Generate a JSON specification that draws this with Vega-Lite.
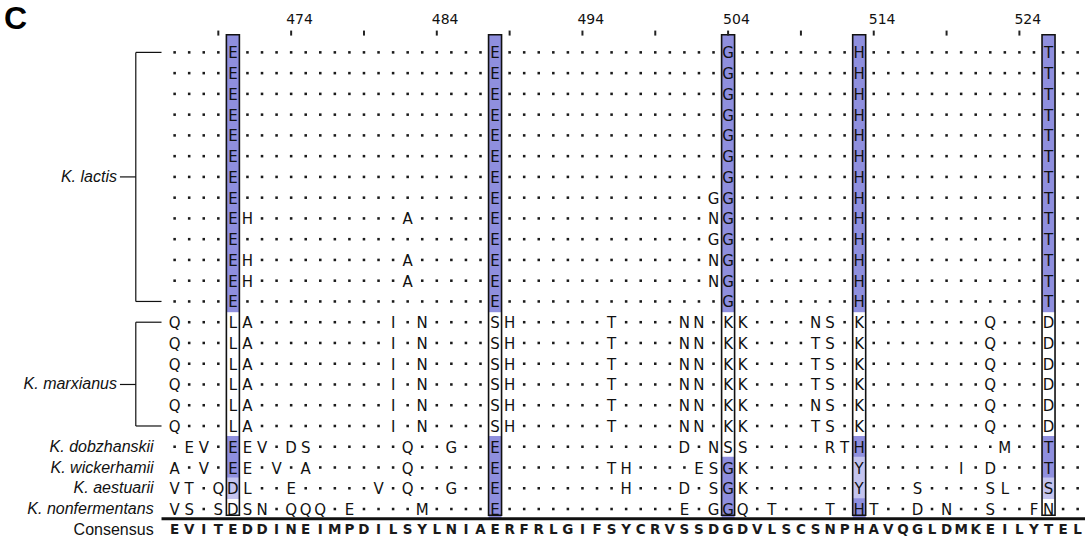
{
"$schema": "https://vega.github.io/schema/vega-lite/v6.json",
"width": 1090,
"height": 494,
"autosize": {"type": "none"},
"padding": {"left": 0, "top": 42, "right": 0, "bottom": 14},
"background": "white",
"config": {"view": {"stroke": null}},
"title": {"text": "C", "anchor": "start", "frame": "group", "fontSize": 32, "font": "Liberation Sans", "fontWeight": "bold", "color": "#000", "offset": -23, "dx": 4},
"datasets": {
"boxes": [{"p":470},{"p":488},{"p":504},{"p":513},{"p":526}],
"ruler": [{"p":469},{"p":474,"l":"474"},{"p":479},{"p":484,"l":"484"},{"p":489},{"p":494,"l":"494"},{"p":499},{"p":504,"l":"504"},{"p":509},{"p":514,"l":"514"},{"p":519},{"p":524,"l":"524"}],
"groups": [{"n":"K. lactis","t":0,"b":12,"m":6},{"n":"K. marxianus","t":13,"b":18,"m":16}],
"labels": [{"i":19,"n":"K. dobzhanskii"},{"i":20,"n":"K. wickerhamii"},{"i":21,"n":"K. aestuarii"},{"i":22,"n":"K. nonfermentans"},{"i":23,"n":"Consensus"}],
"sep": [{"i":22.47}],
"cells": [
{"i":0,"p":466},{"i":0,"p":467},{"i":0,"p":468},{"i":0,"p":469},{"i":0,"p":470,"a":"E","s":"i"},{"i":0,"p":471},{"i":0,"p":472},{"i":0,"p":473},{"i":0,"p":474},{"i":0,"p":475},{"i":0,"p":476},{"i":0,"p":477},{"i":0,"p":478},{"i":0,"p":479},{"i":0,"p":480},{"i":0,"p":481},{"i":0,"p":482},{"i":0,"p":483},{"i":0,"p":484},{"i":0,"p":485},{"i":0,"p":486},{"i":0,"p":487},{"i":0,"p":488,"a":"E","s":"i"},{"i":0,"p":489},{"i":0,"p":490},{"i":0,"p":491},{"i":0,"p":492},{"i":0,"p":493},{"i":0,"p":494},{"i":0,"p":495},{"i":0,"p":496},{"i":0,"p":497},{"i":0,"p":498},{"i":0,"p":499},{"i":0,"p":500},{"i":0,"p":501},{"i":0,"p":502},{"i":0,"p":503},{"i":0,"p":504,"a":"G","s":"i"},{"i":0,"p":505},{"i":0,"p":506},{"i":0,"p":507},{"i":0,"p":508},{"i":0,"p":509},{"i":0,"p":510},{"i":0,"p":511},{"i":0,"p":512},{"i":0,"p":513,"a":"H","s":"i"},{"i":0,"p":514},{"i":0,"p":515},{"i":0,"p":516},{"i":0,"p":517},{"i":0,"p":518},{"i":0,"p":519},{"i":0,"p":520},{"i":0,"p":521},{"i":0,"p":522},{"i":0,"p":523},{"i":0,"p":524},{"i":0,"p":525},{"i":0,"p":526,"a":"T","s":"i"},{"i":0,"p":527},{"i":0,"p":528},
{"i":1,"p":466},{"i":1,"p":467},{"i":1,"p":468},{"i":1,"p":469},{"i":1,"p":470,"a":"E","s":"i"},{"i":1,"p":471},{"i":1,"p":472},{"i":1,"p":473},{"i":1,"p":474},{"i":1,"p":475},{"i":1,"p":476},{"i":1,"p":477},{"i":1,"p":478},{"i":1,"p":479},{"i":1,"p":480},{"i":1,"p":481},{"i":1,"p":482},{"i":1,"p":483},{"i":1,"p":484},{"i":1,"p":485},{"i":1,"p":486},{"i":1,"p":487},{"i":1,"p":488,"a":"E","s":"i"},{"i":1,"p":489},{"i":1,"p":490},{"i":1,"p":491},{"i":1,"p":492},{"i":1,"p":493},{"i":1,"p":494},{"i":1,"p":495},{"i":1,"p":496},{"i":1,"p":497},{"i":1,"p":498},{"i":1,"p":499},{"i":1,"p":500},{"i":1,"p":501},{"i":1,"p":502},{"i":1,"p":503},{"i":1,"p":504,"a":"G","s":"i"},{"i":1,"p":505},{"i":1,"p":506},{"i":1,"p":507},{"i":1,"p":508},{"i":1,"p":509},{"i":1,"p":510},{"i":1,"p":511},{"i":1,"p":512},{"i":1,"p":513,"a":"H","s":"i"},{"i":1,"p":514},{"i":1,"p":515},{"i":1,"p":516},{"i":1,"p":517},{"i":1,"p":518},{"i":1,"p":519},{"i":1,"p":520},{"i":1,"p":521},{"i":1,"p":522},{"i":1,"p":523},{"i":1,"p":524},{"i":1,"p":525},{"i":1,"p":526,"a":"T","s":"i"},{"i":1,"p":527},{"i":1,"p":528},
{"i":2,"p":466},{"i":2,"p":467},{"i":2,"p":468},{"i":2,"p":469},{"i":2,"p":470,"a":"E","s":"i"},{"i":2,"p":471},{"i":2,"p":472},{"i":2,"p":473},{"i":2,"p":474},{"i":2,"p":475},{"i":2,"p":476},{"i":2,"p":477},{"i":2,"p":478},{"i":2,"p":479},{"i":2,"p":480},{"i":2,"p":481},{"i":2,"p":482},{"i":2,"p":483},{"i":2,"p":484},{"i":2,"p":485},{"i":2,"p":486},{"i":2,"p":487},{"i":2,"p":488,"a":"E","s":"i"},{"i":2,"p":489},{"i":2,"p":490},{"i":2,"p":491},{"i":2,"p":492},{"i":2,"p":493},{"i":2,"p":494},{"i":2,"p":495},{"i":2,"p":496},{"i":2,"p":497},{"i":2,"p":498},{"i":2,"p":499},{"i":2,"p":500},{"i":2,"p":501},{"i":2,"p":502},{"i":2,"p":503},{"i":2,"p":504,"a":"G","s":"i"},{"i":2,"p":505},{"i":2,"p":506},{"i":2,"p":507},{"i":2,"p":508},{"i":2,"p":509},{"i":2,"p":510},{"i":2,"p":511},{"i":2,"p":512},{"i":2,"p":513,"a":"H","s":"i"},{"i":2,"p":514},{"i":2,"p":515},{"i":2,"p":516},{"i":2,"p":517},{"i":2,"p":518},{"i":2,"p":519},{"i":2,"p":520},{"i":2,"p":521},{"i":2,"p":522},{"i":2,"p":523},{"i":2,"p":524},{"i":2,"p":525},{"i":2,"p":526,"a":"T","s":"i"},{"i":2,"p":527},{"i":2,"p":528},
{"i":3,"p":466},{"i":3,"p":467},{"i":3,"p":468},{"i":3,"p":469},{"i":3,"p":470,"a":"E","s":"i"},{"i":3,"p":471},{"i":3,"p":472},{"i":3,"p":473},{"i":3,"p":474},{"i":3,"p":475},{"i":3,"p":476},{"i":3,"p":477},{"i":3,"p":478},{"i":3,"p":479},{"i":3,"p":480},{"i":3,"p":481},{"i":3,"p":482},{"i":3,"p":483},{"i":3,"p":484},{"i":3,"p":485},{"i":3,"p":486},{"i":3,"p":487},{"i":3,"p":488,"a":"E","s":"i"},{"i":3,"p":489},{"i":3,"p":490},{"i":3,"p":491},{"i":3,"p":492},{"i":3,"p":493},{"i":3,"p":494},{"i":3,"p":495},{"i":3,"p":496},{"i":3,"p":497},{"i":3,"p":498},{"i":3,"p":499},{"i":3,"p":500},{"i":3,"p":501},{"i":3,"p":502},{"i":3,"p":503},{"i":3,"p":504,"a":"G","s":"i"},{"i":3,"p":505},{"i":3,"p":506},{"i":3,"p":507},{"i":3,"p":508},{"i":3,"p":509},{"i":3,"p":510},{"i":3,"p":511},{"i":3,"p":512},{"i":3,"p":513,"a":"H","s":"i"},{"i":3,"p":514},{"i":3,"p":515},{"i":3,"p":516},{"i":3,"p":517},{"i":3,"p":518},{"i":3,"p":519},{"i":3,"p":520},{"i":3,"p":521},{"i":3,"p":522},{"i":3,"p":523},{"i":3,"p":524},{"i":3,"p":525},{"i":3,"p":526,"a":"T","s":"i"},{"i":3,"p":527},{"i":3,"p":528},
{"i":4,"p":466},{"i":4,"p":467},{"i":4,"p":468},{"i":4,"p":469},{"i":4,"p":470,"a":"E","s":"i"},{"i":4,"p":471},{"i":4,"p":472},{"i":4,"p":473},{"i":4,"p":474},{"i":4,"p":475},{"i":4,"p":476},{"i":4,"p":477},{"i":4,"p":478},{"i":4,"p":479},{"i":4,"p":480},{"i":4,"p":481},{"i":4,"p":482},{"i":4,"p":483},{"i":4,"p":484},{"i":4,"p":485},{"i":4,"p":486},{"i":4,"p":487},{"i":4,"p":488,"a":"E","s":"i"},{"i":4,"p":489},{"i":4,"p":490},{"i":4,"p":491},{"i":4,"p":492},{"i":4,"p":493},{"i":4,"p":494},{"i":4,"p":495},{"i":4,"p":496},{"i":4,"p":497},{"i":4,"p":498},{"i":4,"p":499},{"i":4,"p":500},{"i":4,"p":501},{"i":4,"p":502},{"i":4,"p":503},{"i":4,"p":504,"a":"G","s":"i"},{"i":4,"p":505},{"i":4,"p":506},{"i":4,"p":507},{"i":4,"p":508},{"i":4,"p":509},{"i":4,"p":510},{"i":4,"p":511},{"i":4,"p":512},{"i":4,"p":513,"a":"H","s":"i"},{"i":4,"p":514},{"i":4,"p":515},{"i":4,"p":516},{"i":4,"p":517},{"i":4,"p":518},{"i":4,"p":519},{"i":4,"p":520},{"i":4,"p":521},{"i":4,"p":522},{"i":4,"p":523},{"i":4,"p":524},{"i":4,"p":525},{"i":4,"p":526,"a":"T","s":"i"},{"i":4,"p":527},{"i":4,"p":528},
{"i":5,"p":466},{"i":5,"p":467},{"i":5,"p":468},{"i":5,"p":469},{"i":5,"p":470,"a":"E","s":"i"},{"i":5,"p":471},{"i":5,"p":472},{"i":5,"p":473},{"i":5,"p":474},{"i":5,"p":475},{"i":5,"p":476},{"i":5,"p":477},{"i":5,"p":478},{"i":5,"p":479},{"i":5,"p":480},{"i":5,"p":481},{"i":5,"p":482},{"i":5,"p":483},{"i":5,"p":484},{"i":5,"p":485},{"i":5,"p":486},{"i":5,"p":487},{"i":5,"p":488,"a":"E","s":"i"},{"i":5,"p":489},{"i":5,"p":490},{"i":5,"p":491},{"i":5,"p":492},{"i":5,"p":493},{"i":5,"p":494},{"i":5,"p":495},{"i":5,"p":496},{"i":5,"p":497},{"i":5,"p":498},{"i":5,"p":499},{"i":5,"p":500},{"i":5,"p":501},{"i":5,"p":502},{"i":5,"p":503},{"i":5,"p":504,"a":"G","s":"i"},{"i":5,"p":505},{"i":5,"p":506},{"i":5,"p":507},{"i":5,"p":508},{"i":5,"p":509},{"i":5,"p":510},{"i":5,"p":511},{"i":5,"p":512},{"i":5,"p":513,"a":"H","s":"i"},{"i":5,"p":514},{"i":5,"p":515},{"i":5,"p":516},{"i":5,"p":517},{"i":5,"p":518},{"i":5,"p":519},{"i":5,"p":520},{"i":5,"p":521},{"i":5,"p":522},{"i":5,"p":523},{"i":5,"p":524},{"i":5,"p":525},{"i":5,"p":526,"a":"T","s":"i"},{"i":5,"p":527},{"i":5,"p":528},
{"i":6,"p":466},{"i":6,"p":467},{"i":6,"p":468},{"i":6,"p":469},{"i":6,"p":470,"a":"E","s":"i"},{"i":6,"p":471},{"i":6,"p":472},{"i":6,"p":473},{"i":6,"p":474},{"i":6,"p":475},{"i":6,"p":476},{"i":6,"p":477},{"i":6,"p":478},{"i":6,"p":479},{"i":6,"p":480},{"i":6,"p":481},{"i":6,"p":482},{"i":6,"p":483},{"i":6,"p":484},{"i":6,"p":485},{"i":6,"p":486},{"i":6,"p":487},{"i":6,"p":488,"a":"E","s":"i"},{"i":6,"p":489},{"i":6,"p":490},{"i":6,"p":491},{"i":6,"p":492},{"i":6,"p":493},{"i":6,"p":494},{"i":6,"p":495},{"i":6,"p":496},{"i":6,"p":497},{"i":6,"p":498},{"i":6,"p":499},{"i":6,"p":500},{"i":6,"p":501},{"i":6,"p":502},{"i":6,"p":503},{"i":6,"p":504,"a":"G","s":"i"},{"i":6,"p":505},{"i":6,"p":506},{"i":6,"p":507},{"i":6,"p":508},{"i":6,"p":509},{"i":6,"p":510},{"i":6,"p":511},{"i":6,"p":512},{"i":6,"p":513,"a":"H","s":"i"},{"i":6,"p":514},{"i":6,"p":515},{"i":6,"p":516},{"i":6,"p":517},{"i":6,"p":518},{"i":6,"p":519},{"i":6,"p":520},{"i":6,"p":521},{"i":6,"p":522},{"i":6,"p":523},{"i":6,"p":524},{"i":6,"p":525},{"i":6,"p":526,"a":"T","s":"i"},{"i":6,"p":527},{"i":6,"p":528},
{"i":7,"p":466},{"i":7,"p":467},{"i":7,"p":468},{"i":7,"p":469},{"i":7,"p":470,"a":"E","s":"i"},{"i":7,"p":471},{"i":7,"p":472},{"i":7,"p":473},{"i":7,"p":474},{"i":7,"p":475},{"i":7,"p":476},{"i":7,"p":477},{"i":7,"p":478},{"i":7,"p":479},{"i":7,"p":480},{"i":7,"p":481},{"i":7,"p":482},{"i":7,"p":483},{"i":7,"p":484},{"i":7,"p":485},{"i":7,"p":486},{"i":7,"p":487},{"i":7,"p":488,"a":"E","s":"i"},{"i":7,"p":489},{"i":7,"p":490},{"i":7,"p":491},{"i":7,"p":492},{"i":7,"p":493},{"i":7,"p":494},{"i":7,"p":495},{"i":7,"p":496},{"i":7,"p":497},{"i":7,"p":498},{"i":7,"p":499},{"i":7,"p":500},{"i":7,"p":501},{"i":7,"p":502},{"i":7,"p":503,"a":"G"},{"i":7,"p":504,"a":"G","s":"i"},{"i":7,"p":505},{"i":7,"p":506},{"i":7,"p":507},{"i":7,"p":508},{"i":7,"p":509},{"i":7,"p":510},{"i":7,"p":511},{"i":7,"p":512},{"i":7,"p":513,"a":"H","s":"i"},{"i":7,"p":514},{"i":7,"p":515},{"i":7,"p":516},{"i":7,"p":517},{"i":7,"p":518},{"i":7,"p":519},{"i":7,"p":520},{"i":7,"p":521},{"i":7,"p":522},{"i":7,"p":523},{"i":7,"p":524},{"i":7,"p":525},{"i":7,"p":526,"a":"T","s":"i"},{"i":7,"p":527},{"i":7,"p":528},
{"i":8,"p":466},{"i":8,"p":467},{"i":8,"p":468},{"i":8,"p":469},{"i":8,"p":470,"a":"E","s":"i"},{"i":8,"p":471,"a":"H"},{"i":8,"p":472},{"i":8,"p":473},{"i":8,"p":474},{"i":8,"p":475},{"i":8,"p":476},{"i":8,"p":477},{"i":8,"p":478},{"i":8,"p":479},{"i":8,"p":480},{"i":8,"p":481},{"i":8,"p":482,"a":"A"},{"i":8,"p":483},{"i":8,"p":484},{"i":8,"p":485},{"i":8,"p":486},{"i":8,"p":487},{"i":8,"p":488,"a":"E","s":"i"},{"i":8,"p":489},{"i":8,"p":490},{"i":8,"p":491},{"i":8,"p":492},{"i":8,"p":493},{"i":8,"p":494},{"i":8,"p":495},{"i":8,"p":496},{"i":8,"p":497},{"i":8,"p":498},{"i":8,"p":499},{"i":8,"p":500},{"i":8,"p":501},{"i":8,"p":502},{"i":8,"p":503,"a":"N"},{"i":8,"p":504,"a":"G","s":"i"},{"i":8,"p":505},{"i":8,"p":506},{"i":8,"p":507},{"i":8,"p":508},{"i":8,"p":509},{"i":8,"p":510},{"i":8,"p":511},{"i":8,"p":512},{"i":8,"p":513,"a":"H","s":"i"},{"i":8,"p":514},{"i":8,"p":515},{"i":8,"p":516},{"i":8,"p":517},{"i":8,"p":518},{"i":8,"p":519},{"i":8,"p":520},{"i":8,"p":521},{"i":8,"p":522},{"i":8,"p":523},{"i":8,"p":524},{"i":8,"p":525},{"i":8,"p":526,"a":"T","s":"i"},{"i":8,"p":527},{"i":8,"p":528},
{"i":9,"p":466},{"i":9,"p":467},{"i":9,"p":468},{"i":9,"p":469},{"i":9,"p":470,"a":"E","s":"i"},{"i":9,"p":471},{"i":9,"p":472},{"i":9,"p":473},{"i":9,"p":474},{"i":9,"p":475},{"i":9,"p":476},{"i":9,"p":477},{"i":9,"p":478},{"i":9,"p":479},{"i":9,"p":480},{"i":9,"p":481},{"i":9,"p":482},{"i":9,"p":483},{"i":9,"p":484},{"i":9,"p":485},{"i":9,"p":486},{"i":9,"p":487},{"i":9,"p":488,"a":"E","s":"i"},{"i":9,"p":489},{"i":9,"p":490},{"i":9,"p":491},{"i":9,"p":492},{"i":9,"p":493},{"i":9,"p":494},{"i":9,"p":495},{"i":9,"p":496},{"i":9,"p":497},{"i":9,"p":498},{"i":9,"p":499},{"i":9,"p":500},{"i":9,"p":501},{"i":9,"p":502},{"i":9,"p":503,"a":"G"},{"i":9,"p":504,"a":"G","s":"i"},{"i":9,"p":505},{"i":9,"p":506},{"i":9,"p":507},{"i":9,"p":508},{"i":9,"p":509},{"i":9,"p":510},{"i":9,"p":511},{"i":9,"p":512},{"i":9,"p":513,"a":"H","s":"i"},{"i":9,"p":514},{"i":9,"p":515},{"i":9,"p":516},{"i":9,"p":517},{"i":9,"p":518},{"i":9,"p":519},{"i":9,"p":520},{"i":9,"p":521},{"i":9,"p":522},{"i":9,"p":523},{"i":9,"p":524},{"i":9,"p":525},{"i":9,"p":526,"a":"T","s":"i"},{"i":9,"p":527},{"i":9,"p":528},
{"i":10,"p":466},{"i":10,"p":467},{"i":10,"p":468},{"i":10,"p":469},{"i":10,"p":470,"a":"E","s":"i"},{"i":10,"p":471,"a":"H"},{"i":10,"p":472},{"i":10,"p":473},{"i":10,"p":474},{"i":10,"p":475},{"i":10,"p":476},{"i":10,"p":477},{"i":10,"p":478},{"i":10,"p":479},{"i":10,"p":480},{"i":10,"p":481},{"i":10,"p":482,"a":"A"},{"i":10,"p":483},{"i":10,"p":484},{"i":10,"p":485},{"i":10,"p":486},{"i":10,"p":487},{"i":10,"p":488,"a":"E","s":"i"},{"i":10,"p":489},{"i":10,"p":490},{"i":10,"p":491},{"i":10,"p":492},{"i":10,"p":493},{"i":10,"p":494},{"i":10,"p":495},{"i":10,"p":496},{"i":10,"p":497},{"i":10,"p":498},{"i":10,"p":499},{"i":10,"p":500},{"i":10,"p":501},{"i":10,"p":502},{"i":10,"p":503,"a":"N"},{"i":10,"p":504,"a":"G","s":"i"},{"i":10,"p":505},{"i":10,"p":506},{"i":10,"p":507},{"i":10,"p":508},{"i":10,"p":509},{"i":10,"p":510},{"i":10,"p":511},{"i":10,"p":512},{"i":10,"p":513,"a":"H","s":"i"},{"i":10,"p":514},{"i":10,"p":515},{"i":10,"p":516},{"i":10,"p":517},{"i":10,"p":518},{"i":10,"p":519},{"i":10,"p":520},{"i":10,"p":521},{"i":10,"p":522},{"i":10,"p":523},{"i":10,"p":524},{"i":10,"p":525},{"i":10,"p":526,"a":"T","s":"i"},{"i":10,"p":527},{"i":10,"p":528},
{"i":11,"p":466},{"i":11,"p":467},{"i":11,"p":468},{"i":11,"p":469},{"i":11,"p":470,"a":"E","s":"i"},{"i":11,"p":471,"a":"H"},{"i":11,"p":472},{"i":11,"p":473},{"i":11,"p":474},{"i":11,"p":475},{"i":11,"p":476},{"i":11,"p":477},{"i":11,"p":478},{"i":11,"p":479},{"i":11,"p":480},{"i":11,"p":481},{"i":11,"p":482,"a":"A"},{"i":11,"p":483},{"i":11,"p":484},{"i":11,"p":485},{"i":11,"p":486},{"i":11,"p":487},{"i":11,"p":488,"a":"E","s":"i"},{"i":11,"p":489},{"i":11,"p":490},{"i":11,"p":491},{"i":11,"p":492},{"i":11,"p":493},{"i":11,"p":494},{"i":11,"p":495},{"i":11,"p":496},{"i":11,"p":497},{"i":11,"p":498},{"i":11,"p":499},{"i":11,"p":500},{"i":11,"p":501},{"i":11,"p":502},{"i":11,"p":503,"a":"N"},{"i":11,"p":504,"a":"G","s":"i"},{"i":11,"p":505},{"i":11,"p":506},{"i":11,"p":507},{"i":11,"p":508},{"i":11,"p":509},{"i":11,"p":510},{"i":11,"p":511},{"i":11,"p":512},{"i":11,"p":513,"a":"H","s":"i"},{"i":11,"p":514},{"i":11,"p":515},{"i":11,"p":516},{"i":11,"p":517},{"i":11,"p":518},{"i":11,"p":519},{"i":11,"p":520},{"i":11,"p":521},{"i":11,"p":522},{"i":11,"p":523},{"i":11,"p":524},{"i":11,"p":525},{"i":11,"p":526,"a":"T","s":"i"},{"i":11,"p":527},{"i":11,"p":528},
{"i":12,"p":466},{"i":12,"p":467},{"i":12,"p":468},{"i":12,"p":469},{"i":12,"p":470,"a":"E","s":"i"},{"i":12,"p":471},{"i":12,"p":472},{"i":12,"p":473},{"i":12,"p":474},{"i":12,"p":475},{"i":12,"p":476},{"i":12,"p":477},{"i":12,"p":478},{"i":12,"p":479},{"i":12,"p":480},{"i":12,"p":481},{"i":12,"p":482},{"i":12,"p":483},{"i":12,"p":484},{"i":12,"p":485},{"i":12,"p":486},{"i":12,"p":487},{"i":12,"p":488,"a":"E","s":"i"},{"i":12,"p":489},{"i":12,"p":490},{"i":12,"p":491},{"i":12,"p":492},{"i":12,"p":493},{"i":12,"p":494},{"i":12,"p":495},{"i":12,"p":496},{"i":12,"p":497},{"i":12,"p":498},{"i":12,"p":499},{"i":12,"p":500},{"i":12,"p":501},{"i":12,"p":502},{"i":12,"p":503},{"i":12,"p":504,"a":"G","s":"i"},{"i":12,"p":505},{"i":12,"p":506},{"i":12,"p":507},{"i":12,"p":508},{"i":12,"p":509},{"i":12,"p":510},{"i":12,"p":511},{"i":12,"p":512},{"i":12,"p":513,"a":"H","s":"i"},{"i":12,"p":514},{"i":12,"p":515},{"i":12,"p":516},{"i":12,"p":517},{"i":12,"p":518},{"i":12,"p":519},{"i":12,"p":520},{"i":12,"p":521},{"i":12,"p":522},{"i":12,"p":523},{"i":12,"p":524},{"i":12,"p":525},{"i":12,"p":526,"a":"T","s":"i"},{"i":12,"p":527},{"i":12,"p":528},
{"i":13,"p":466,"a":"Q"},{"i":13,"p":467},{"i":13,"p":468},{"i":13,"p":469},{"i":13,"p":470,"a":"L"},{"i":13,"p":471,"a":"A"},{"i":13,"p":472},{"i":13,"p":473},{"i":13,"p":474},{"i":13,"p":475},{"i":13,"p":476},{"i":13,"p":477},{"i":13,"p":478},{"i":13,"p":479},{"i":13,"p":480},{"i":13,"p":481,"a":"I"},{"i":13,"p":482},{"i":13,"p":483,"a":"N"},{"i":13,"p":484},{"i":13,"p":485},{"i":13,"p":486},{"i":13,"p":487},{"i":13,"p":488,"a":"S"},{"i":13,"p":489,"a":"H"},{"i":13,"p":490},{"i":13,"p":491},{"i":13,"p":492},{"i":13,"p":493},{"i":13,"p":494},{"i":13,"p":495},{"i":13,"p":496,"a":"T"},{"i":13,"p":497},{"i":13,"p":498},{"i":13,"p":499},{"i":13,"p":500},{"i":13,"p":501,"a":"N"},{"i":13,"p":502,"a":"N"},{"i":13,"p":503},{"i":13,"p":504,"a":"K"},{"i":13,"p":505,"a":"K"},{"i":13,"p":506},{"i":13,"p":507},{"i":13,"p":508},{"i":13,"p":509},{"i":13,"p":510,"a":"N"},{"i":13,"p":511,"a":"S"},{"i":13,"p":512},{"i":13,"p":513,"a":"K"},{"i":13,"p":514},{"i":13,"p":515},{"i":13,"p":516},{"i":13,"p":517},{"i":13,"p":518},{"i":13,"p":519},{"i":13,"p":520},{"i":13,"p":521},{"i":13,"p":522,"a":"Q"},{"i":13,"p":523},{"i":13,"p":524},{"i":13,"p":525},{"i":13,"p":526,"a":"D"},{"i":13,"p":527},{"i":13,"p":528},
{"i":14,"p":466,"a":"Q"},{"i":14,"p":467},{"i":14,"p":468},{"i":14,"p":469},{"i":14,"p":470,"a":"L"},{"i":14,"p":471,"a":"A"},{"i":14,"p":472},{"i":14,"p":473},{"i":14,"p":474},{"i":14,"p":475},{"i":14,"p":476},{"i":14,"p":477},{"i":14,"p":478},{"i":14,"p":479},{"i":14,"p":480},{"i":14,"p":481,"a":"I"},{"i":14,"p":482},{"i":14,"p":483,"a":"N"},{"i":14,"p":484},{"i":14,"p":485},{"i":14,"p":486},{"i":14,"p":487},{"i":14,"p":488,"a":"S"},{"i":14,"p":489,"a":"H"},{"i":14,"p":490},{"i":14,"p":491},{"i":14,"p":492},{"i":14,"p":493},{"i":14,"p":494},{"i":14,"p":495},{"i":14,"p":496,"a":"T"},{"i":14,"p":497},{"i":14,"p":498},{"i":14,"p":499},{"i":14,"p":500},{"i":14,"p":501,"a":"N"},{"i":14,"p":502,"a":"N"},{"i":14,"p":503},{"i":14,"p":504,"a":"K"},{"i":14,"p":505,"a":"K"},{"i":14,"p":506},{"i":14,"p":507},{"i":14,"p":508},{"i":14,"p":509},{"i":14,"p":510,"a":"T"},{"i":14,"p":511,"a":"S"},{"i":14,"p":512},{"i":14,"p":513,"a":"K"},{"i":14,"p":514},{"i":14,"p":515},{"i":14,"p":516},{"i":14,"p":517},{"i":14,"p":518},{"i":14,"p":519},{"i":14,"p":520},{"i":14,"p":521},{"i":14,"p":522,"a":"Q"},{"i":14,"p":523},{"i":14,"p":524},{"i":14,"p":525},{"i":14,"p":526,"a":"D"},{"i":14,"p":527},{"i":14,"p":528},
{"i":15,"p":466,"a":"Q"},{"i":15,"p":467},{"i":15,"p":468},{"i":15,"p":469},{"i":15,"p":470,"a":"L"},{"i":15,"p":471,"a":"A"},{"i":15,"p":472},{"i":15,"p":473},{"i":15,"p":474},{"i":15,"p":475},{"i":15,"p":476},{"i":15,"p":477},{"i":15,"p":478},{"i":15,"p":479},{"i":15,"p":480},{"i":15,"p":481,"a":"I"},{"i":15,"p":482},{"i":15,"p":483,"a":"N"},{"i":15,"p":484},{"i":15,"p":485},{"i":15,"p":486},{"i":15,"p":487},{"i":15,"p":488,"a":"S"},{"i":15,"p":489,"a":"H"},{"i":15,"p":490},{"i":15,"p":491},{"i":15,"p":492},{"i":15,"p":493},{"i":15,"p":494},{"i":15,"p":495},{"i":15,"p":496,"a":"T"},{"i":15,"p":497},{"i":15,"p":498},{"i":15,"p":499},{"i":15,"p":500},{"i":15,"p":501,"a":"N"},{"i":15,"p":502,"a":"N"},{"i":15,"p":503},{"i":15,"p":504,"a":"K"},{"i":15,"p":505,"a":"K"},{"i":15,"p":506},{"i":15,"p":507},{"i":15,"p":508},{"i":15,"p":509},{"i":15,"p":510,"a":"T"},{"i":15,"p":511,"a":"S"},{"i":15,"p":512},{"i":15,"p":513,"a":"K"},{"i":15,"p":514},{"i":15,"p":515},{"i":15,"p":516},{"i":15,"p":517},{"i":15,"p":518},{"i":15,"p":519},{"i":15,"p":520},{"i":15,"p":521},{"i":15,"p":522,"a":"Q"},{"i":15,"p":523},{"i":15,"p":524},{"i":15,"p":525},{"i":15,"p":526,"a":"D"},{"i":15,"p":527},{"i":15,"p":528},
{"i":16,"p":466,"a":"Q"},{"i":16,"p":467},{"i":16,"p":468},{"i":16,"p":469},{"i":16,"p":470,"a":"L"},{"i":16,"p":471,"a":"A"},{"i":16,"p":472},{"i":16,"p":473},{"i":16,"p":474},{"i":16,"p":475},{"i":16,"p":476},{"i":16,"p":477},{"i":16,"p":478},{"i":16,"p":479},{"i":16,"p":480},{"i":16,"p":481,"a":"I"},{"i":16,"p":482},{"i":16,"p":483,"a":"N"},{"i":16,"p":484},{"i":16,"p":485},{"i":16,"p":486},{"i":16,"p":487},{"i":16,"p":488,"a":"S"},{"i":16,"p":489,"a":"H"},{"i":16,"p":490},{"i":16,"p":491},{"i":16,"p":492},{"i":16,"p":493},{"i":16,"p":494},{"i":16,"p":495},{"i":16,"p":496,"a":"T"},{"i":16,"p":497},{"i":16,"p":498},{"i":16,"p":499},{"i":16,"p":500},{"i":16,"p":501,"a":"N"},{"i":16,"p":502,"a":"N"},{"i":16,"p":503},{"i":16,"p":504,"a":"K"},{"i":16,"p":505,"a":"K"},{"i":16,"p":506},{"i":16,"p":507},{"i":16,"p":508},{"i":16,"p":509},{"i":16,"p":510,"a":"T"},{"i":16,"p":511,"a":"S"},{"i":16,"p":512},{"i":16,"p":513,"a":"K"},{"i":16,"p":514},{"i":16,"p":515},{"i":16,"p":516},{"i":16,"p":517},{"i":16,"p":518},{"i":16,"p":519},{"i":16,"p":520},{"i":16,"p":521},{"i":16,"p":522,"a":"Q"},{"i":16,"p":523},{"i":16,"p":524},{"i":16,"p":525},{"i":16,"p":526,"a":"D"},{"i":16,"p":527},{"i":16,"p":528},
{"i":17,"p":466,"a":"Q"},{"i":17,"p":467},{"i":17,"p":468},{"i":17,"p":469},{"i":17,"p":470,"a":"L"},{"i":17,"p":471,"a":"A"},{"i":17,"p":472},{"i":17,"p":473},{"i":17,"p":474},{"i":17,"p":475},{"i":17,"p":476},{"i":17,"p":477},{"i":17,"p":478},{"i":17,"p":479},{"i":17,"p":480},{"i":17,"p":481,"a":"I"},{"i":17,"p":482},{"i":17,"p":483,"a":"N"},{"i":17,"p":484},{"i":17,"p":485},{"i":17,"p":486},{"i":17,"p":487},{"i":17,"p":488,"a":"S"},{"i":17,"p":489,"a":"H"},{"i":17,"p":490},{"i":17,"p":491},{"i":17,"p":492},{"i":17,"p":493},{"i":17,"p":494},{"i":17,"p":495},{"i":17,"p":496,"a":"T"},{"i":17,"p":497},{"i":17,"p":498},{"i":17,"p":499},{"i":17,"p":500},{"i":17,"p":501,"a":"N"},{"i":17,"p":502,"a":"N"},{"i":17,"p":503},{"i":17,"p":504,"a":"K"},{"i":17,"p":505,"a":"K"},{"i":17,"p":506},{"i":17,"p":507},{"i":17,"p":508},{"i":17,"p":509},{"i":17,"p":510,"a":"N"},{"i":17,"p":511,"a":"S"},{"i":17,"p":512},{"i":17,"p":513,"a":"K"},{"i":17,"p":514},{"i":17,"p":515},{"i":17,"p":516},{"i":17,"p":517},{"i":17,"p":518},{"i":17,"p":519},{"i":17,"p":520},{"i":17,"p":521},{"i":17,"p":522,"a":"Q"},{"i":17,"p":523},{"i":17,"p":524},{"i":17,"p":525},{"i":17,"p":526,"a":"D"},{"i":17,"p":527},{"i":17,"p":528},
{"i":18,"p":466,"a":"Q"},{"i":18,"p":467},{"i":18,"p":468},{"i":18,"p":469},{"i":18,"p":470,"a":"L"},{"i":18,"p":471,"a":"A"},{"i":18,"p":472},{"i":18,"p":473},{"i":18,"p":474},{"i":18,"p":475},{"i":18,"p":476},{"i":18,"p":477},{"i":18,"p":478},{"i":18,"p":479},{"i":18,"p":480},{"i":18,"p":481,"a":"I"},{"i":18,"p":482},{"i":18,"p":483,"a":"N"},{"i":18,"p":484},{"i":18,"p":485},{"i":18,"p":486},{"i":18,"p":487},{"i":18,"p":488,"a":"S"},{"i":18,"p":489,"a":"H"},{"i":18,"p":490},{"i":18,"p":491},{"i":18,"p":492},{"i":18,"p":493},{"i":18,"p":494},{"i":18,"p":495},{"i":18,"p":496,"a":"T"},{"i":18,"p":497},{"i":18,"p":498},{"i":18,"p":499},{"i":18,"p":500},{"i":18,"p":501,"a":"N"},{"i":18,"p":502,"a":"N"},{"i":18,"p":503},{"i":18,"p":504,"a":"K"},{"i":18,"p":505,"a":"K"},{"i":18,"p":506},{"i":18,"p":507},{"i":18,"p":508},{"i":18,"p":509},{"i":18,"p":510,"a":"T"},{"i":18,"p":511,"a":"S"},{"i":18,"p":512},{"i":18,"p":513,"a":"K"},{"i":18,"p":514},{"i":18,"p":515},{"i":18,"p":516},{"i":18,"p":517},{"i":18,"p":518},{"i":18,"p":519},{"i":18,"p":520},{"i":18,"p":521},{"i":18,"p":522,"a":"Q"},{"i":18,"p":523},{"i":18,"p":524},{"i":18,"p":525},{"i":18,"p":526,"a":"D"},{"i":18,"p":527},{"i":18,"p":528},
{"i":19,"p":466},{"i":19,"p":467,"a":"E"},{"i":19,"p":468,"a":"V"},{"i":19,"p":469},{"i":19,"p":470,"a":"E","s":"i"},{"i":19,"p":471,"a":"E"},{"i":19,"p":472,"a":"V"},{"i":19,"p":473},{"i":19,"p":474,"a":"D"},{"i":19,"p":475,"a":"S"},{"i":19,"p":476},{"i":19,"p":477},{"i":19,"p":478},{"i":19,"p":479},{"i":19,"p":480},{"i":19,"p":481},{"i":19,"p":482,"a":"Q"},{"i":19,"p":483},{"i":19,"p":484},{"i":19,"p":485,"a":"G"},{"i":19,"p":486},{"i":19,"p":487},{"i":19,"p":488,"a":"E","s":"i"},{"i":19,"p":489},{"i":19,"p":490},{"i":19,"p":491},{"i":19,"p":492},{"i":19,"p":493},{"i":19,"p":494},{"i":19,"p":495},{"i":19,"p":496},{"i":19,"p":497},{"i":19,"p":498},{"i":19,"p":499},{"i":19,"p":500},{"i":19,"p":501,"a":"D"},{"i":19,"p":502},{"i":19,"p":503,"a":"N"},{"i":19,"p":504,"a":"S"},{"i":19,"p":505,"a":"S"},{"i":19,"p":506},{"i":19,"p":507},{"i":19,"p":508},{"i":19,"p":509},{"i":19,"p":510},{"i":19,"p":511,"a":"R"},{"i":19,"p":512,"a":"T"},{"i":19,"p":513,"a":"H","s":"i"},{"i":19,"p":514},{"i":19,"p":515},{"i":19,"p":516},{"i":19,"p":517},{"i":19,"p":518},{"i":19,"p":519},{"i":19,"p":520},{"i":19,"p":521},{"i":19,"p":522},{"i":19,"p":523,"a":"M"},{"i":19,"p":524},{"i":19,"p":525},{"i":19,"p":526,"a":"T","s":"i"},{"i":19,"p":527},{"i":19,"p":528},
{"i":20,"p":466,"a":"A"},{"i":20,"p":467},{"i":20,"p":468,"a":"V"},{"i":20,"p":469},{"i":20,"p":470,"a":"E","s":"i"},{"i":20,"p":471,"a":"E"},{"i":20,"p":472},{"i":20,"p":473,"a":"V"},{"i":20,"p":474},{"i":20,"p":475,"a":"A"},{"i":20,"p":476},{"i":20,"p":477},{"i":20,"p":478},{"i":20,"p":479},{"i":20,"p":480},{"i":20,"p":481},{"i":20,"p":482,"a":"Q"},{"i":20,"p":483},{"i":20,"p":484},{"i":20,"p":485},{"i":20,"p":486},{"i":20,"p":487},{"i":20,"p":488,"a":"E","s":"i"},{"i":20,"p":489},{"i":20,"p":490},{"i":20,"p":491},{"i":20,"p":492},{"i":20,"p":493},{"i":20,"p":494},{"i":20,"p":495},{"i":20,"p":496,"a":"T"},{"i":20,"p":497,"a":"H"},{"i":20,"p":498},{"i":20,"p":499},{"i":20,"p":500},{"i":20,"p":501},{"i":20,"p":502,"a":"E"},{"i":20,"p":503,"a":"S"},{"i":20,"p":504,"a":"G","s":"i"},{"i":20,"p":505,"a":"K"},{"i":20,"p":506},{"i":20,"p":507},{"i":20,"p":508},{"i":20,"p":509},{"i":20,"p":510},{"i":20,"p":511},{"i":20,"p":512},{"i":20,"p":513,"a":"Y","s":"l"},{"i":20,"p":514},{"i":20,"p":515},{"i":20,"p":516},{"i":20,"p":517},{"i":20,"p":518},{"i":20,"p":519},{"i":20,"p":520,"a":"I"},{"i":20,"p":521},{"i":20,"p":522,"a":"D"},{"i":20,"p":523},{"i":20,"p":524},{"i":20,"p":525},{"i":20,"p":526,"a":"T","s":"i"},{"i":20,"p":527},{"i":20,"p":528},
{"i":21,"p":466,"a":"V"},{"i":21,"p":467,"a":"T"},{"i":21,"p":468},{"i":21,"p":469,"a":"Q"},{"i":21,"p":470,"a":"D","s":"l"},{"i":21,"p":471,"a":"L"},{"i":21,"p":472},{"i":21,"p":473},{"i":21,"p":474,"a":"E"},{"i":21,"p":475},{"i":21,"p":476},{"i":21,"p":477},{"i":21,"p":478},{"i":21,"p":479},{"i":21,"p":480,"a":"V"},{"i":21,"p":481},{"i":21,"p":482,"a":"Q"},{"i":21,"p":483},{"i":21,"p":484},{"i":21,"p":485,"a":"G"},{"i":21,"p":486},{"i":21,"p":487},{"i":21,"p":488,"a":"E","s":"i"},{"i":21,"p":489},{"i":21,"p":490},{"i":21,"p":491},{"i":21,"p":492},{"i":21,"p":493},{"i":21,"p":494},{"i":21,"p":495},{"i":21,"p":496},{"i":21,"p":497,"a":"H"},{"i":21,"p":498},{"i":21,"p":499},{"i":21,"p":500},{"i":21,"p":501,"a":"D"},{"i":21,"p":502},{"i":21,"p":503,"a":"S"},{"i":21,"p":504,"a":"G","s":"i"},{"i":21,"p":505,"a":"K"},{"i":21,"p":506},{"i":21,"p":507},{"i":21,"p":508},{"i":21,"p":509},{"i":21,"p":510},{"i":21,"p":511},{"i":21,"p":512},{"i":21,"p":513,"a":"Y","s":"l"},{"i":21,"p":514},{"i":21,"p":515},{"i":21,"p":516},{"i":21,"p":517,"a":"S"},{"i":21,"p":518},{"i":21,"p":519},{"i":21,"p":520},{"i":21,"p":521},{"i":21,"p":522,"a":"S"},{"i":21,"p":523,"a":"L"},{"i":21,"p":524},{"i":21,"p":525},{"i":21,"p":526,"a":"S","s":"l"},{"i":21,"p":527},{"i":21,"p":528},
{"i":22,"p":466,"a":"V"},{"i":22,"p":467,"a":"S"},{"i":22,"p":468},{"i":22,"p":469,"a":"S"},{"i":22,"p":470,"a":"D"},{"i":22,"p":471,"a":"S"},{"i":22,"p":472,"a":"N"},{"i":22,"p":473},{"i":22,"p":474,"a":"Q"},{"i":22,"p":475,"a":"Q"},{"i":22,"p":476,"a":"Q"},{"i":22,"p":477},{"i":22,"p":478,"a":"E"},{"i":22,"p":479},{"i":22,"p":480},{"i":22,"p":481},{"i":22,"p":482},{"i":22,"p":483,"a":"M"},{"i":22,"p":484},{"i":22,"p":485},{"i":22,"p":486},{"i":22,"p":487},{"i":22,"p":488,"a":"E","s":"i"},{"i":22,"p":489},{"i":22,"p":490},{"i":22,"p":491},{"i":22,"p":492},{"i":22,"p":493},{"i":22,"p":494},{"i":22,"p":495},{"i":22,"p":496},{"i":22,"p":497},{"i":22,"p":498},{"i":22,"p":499},{"i":22,"p":500},{"i":22,"p":501,"a":"E"},{"i":22,"p":502},{"i":22,"p":503,"a":"G"},{"i":22,"p":504,"a":"G","s":"i"},{"i":22,"p":505,"a":"Q"},{"i":22,"p":506},{"i":22,"p":507,"a":"T"},{"i":22,"p":508},{"i":22,"p":509},{"i":22,"p":510},{"i":22,"p":511,"a":"T"},{"i":22,"p":512},{"i":22,"p":513,"a":"H","s":"i"},{"i":22,"p":514,"a":"T"},{"i":22,"p":515},{"i":22,"p":516},{"i":22,"p":517,"a":"D"},{"i":22,"p":518},{"i":22,"p":519,"a":"N"},{"i":22,"p":520},{"i":22,"p":521},{"i":22,"p":522,"a":"S"},{"i":22,"p":523},{"i":22,"p":524},{"i":22,"p":525,"a":"F"},{"i":22,"p":526,"a":"N"},{"i":22,"p":527},{"i":22,"p":528},
{"i":23,"p":466,"a":"E"},{"i":23,"p":467,"a":"V"},{"i":23,"p":468,"a":"I"},{"i":23,"p":469,"a":"T"},{"i":23,"p":470,"a":"E"},{"i":23,"p":471,"a":"D"},{"i":23,"p":472,"a":"D"},{"i":23,"p":473,"a":"I"},{"i":23,"p":474,"a":"N"},{"i":23,"p":475,"a":"E"},{"i":23,"p":476,"a":"I"},{"i":23,"p":477,"a":"M"},{"i":23,"p":478,"a":"P"},{"i":23,"p":479,"a":"D"},{"i":23,"p":480,"a":"I"},{"i":23,"p":481,"a":"L"},{"i":23,"p":482,"a":"S"},{"i":23,"p":483,"a":"Y"},{"i":23,"p":484,"a":"L"},{"i":23,"p":485,"a":"N"},{"i":23,"p":486,"a":"I"},{"i":23,"p":487,"a":"A"},{"i":23,"p":488,"a":"E"},{"i":23,"p":489,"a":"R"},{"i":23,"p":490,"a":"F"},{"i":23,"p":491,"a":"R"},{"i":23,"p":492,"a":"L"},{"i":23,"p":493,"a":"G"},{"i":23,"p":494,"a":"I"},{"i":23,"p":495,"a":"F"},{"i":23,"p":496,"a":"S"},{"i":23,"p":497,"a":"Y"},{"i":23,"p":498,"a":"C"},{"i":23,"p":499,"a":"R"},{"i":23,"p":500,"a":"V"},{"i":23,"p":501,"a":"S"},{"i":23,"p":502,"a":"S"},{"i":23,"p":503,"a":"D"},{"i":23,"p":504,"a":"G"},{"i":23,"p":505,"a":"D"},{"i":23,"p":506,"a":"V"},{"i":23,"p":507,"a":"L"},{"i":23,"p":508,"a":"S"},{"i":23,"p":509,"a":"C"},{"i":23,"p":510,"a":"S"},{"i":23,"p":511,"a":"N"},{"i":23,"p":512,"a":"P"},{"i":23,"p":513,"a":"H"},{"i":23,"p":514,"a":"A"},{"i":23,"p":515,"a":"V"},{"i":23,"p":516,"a":"Q"},{"i":23,"p":517,"a":"G"},{"i":23,"p":518,"a":"L"},{"i":23,"p":519,"a":"D"},{"i":23,"p":520,"a":"M"},{"i":23,"p":521,"a":"K"},{"i":23,"p":522,"a":"E"},{"i":23,"p":523,"a":"I"},{"i":23,"p":524,"a":"L"},{"i":23,"p":525,"a":"Y"},{"i":23,"p":526,"a":"T"},{"i":23,"p":527,"a":"E"},{"i":23,"p":528,"a":"L"}
]
},
"layer": [
{"data": {"name": "boxes"}, "mark": {"type": "bar", "orient": "vertical", "width": 13, "color": "#8f8fde"},
 "encoding": {"x": {"field": "p", "type": "quantitative", "scale": {"domain": [454.354, 528.504], "nice": false, "zero": false}, "axis": null},
  "y": {"datum": -0.85, "type": "quantitative", "scale": {"domain": [-0.5, 23.3], "reverse": true, "nice": false, "zero": false}, "axis": null}, "y2": {"datum": 12.5}}},
{"data": {"name": "cells"}, "transform": [{"filter": "isValid(datum.s)"}], "mark": {"type": "tick", "orient": "vertical", "thickness": 13, "size": 21.5, "opacity": 1},
 "encoding": {"x": {"field": "p", "type": "quantitative", "axis": null}, "y": {"field": "i", "type": "quantitative", "axis": null},
  "color": {"field": "s", "type": "nominal", "scale": {"domain": ["i", "l"], "range": ["#8f8fde", "#c4c4ef"]}, "legend": null}}},
{"data": {"name": "cells"}, "transform": [{"filter": "!isValid(datum.a)"}], "mark": {"type": "point", "shape": "square", "size": 6.5, "filled": true, "color": "#1a1a1a", "opacity": 1},
 "encoding": {"x": {"field": "p", "type": "quantitative", "axis": null}, "y": {"field": "i", "type": "quantitative", "axis": null}}},
{"data": {"name": "cells"}, "transform": [{"filter": "isValid(datum.a) && datum.i < 23"}], "mark": {"type": "text", "font": "DejaVu Sans", "fontSize": 15, "baseline": "middle", "dy": 1, "color": "#111"},
 "encoding": {"x": {"field": "p", "type": "quantitative", "axis": null}, "y": {"field": "i", "type": "quantitative", "axis": null}, "text": {"field": "a"}}},
{"data": {"name": "boxes"}, "mark": {"type": "bar", "orient": "vertical", "width": 13, "filled": false, "color": "#111", "strokeWidth": 1.6},
 "encoding": {"x": {"field": "p", "type": "quantitative", "axis": null}, "y": {"datum": -0.85, "type": "quantitative", "axis": null}, "y2": {"datum": 22.3}}},
{"data": {"name": "cells"}, "transform": [{"filter": "datum.i == 23"}], "mark": {"type": "text", "font": "DejaVu Sans", "fontSize": 13.5, "fontWeight": "bold", "baseline": "middle", "color": "#1a1a1a"},
 "encoding": {"x": {"field": "p", "type": "quantitative", "axis": null}, "y": {"field": "i", "type": "quantitative", "axis": null}, "text": {"field": "a"}}},
{"data": {"name": "ruler"}, "mark": {"type": "tick", "orient": "vertical", "thickness": 2, "size": 5, "color": "#222", "opacity": 1},
 "encoding": {"x": {"field": "p", "type": "quantitative", "axis": null}, "y": {"datum": -0.93, "type": "quantitative", "axis": null}}},
{"data": {"name": "ruler"}, "transform": [{"filter": "isValid(datum.l)"}], "mark": {"type": "text", "align": "left", "baseline": "middle", "dx": -5, "font": "DejaVu Sans", "fontSize": 14, "color": "#111"},
 "encoding": {"x": {"field": "p", "type": "quantitative", "axis": null}, "y": {"datum": -1.54, "type": "quantitative", "axis": null}, "text": {"field": "l"}}},
{"data": {"name": "sep"}, "mark": {"type": "rule", "strokeWidth": 3, "color": "#111"},
 "encoding": {"x": {"datum": 465.1, "type": "quantitative", "axis": null}, "x2": {"datum": 528.504}, "y": {"field": "i", "type": "quantitative", "axis": null}}},
{"data": {"name": "labels"}, "transform": [{"filter": "datum.i < 23"}], "mark": {"type": "text", "align": "right", "baseline": "middle", "font": "Liberation Sans", "fontSize": 16, "fontStyle": "italic", "color": "#111"},
 "encoding": {"x": {"datum": 464.56, "type": "quantitative", "axis": null}, "y": {"field": "i", "type": "quantitative", "axis": null}, "text": {"field": "n"}}},
{"data": {"name": "labels"}, "transform": [{"filter": "datum.i == 23"}], "mark": {"type": "text", "align": "right", "baseline": "middle", "font": "Liberation Sans", "fontSize": 16, "color": "#111"},
 "encoding": {"x": {"datum": 464.56, "type": "quantitative", "axis": null}, "y": {"field": "i", "type": "quantitative", "axis": null}, "text": {"field": "n"}}},
{"data": {"name": "groups"}, "mark": {"type": "rule", "color": "#111", "strokeWidth": 1.2},
 "encoding": {"x": {"datum": 463.334, "type": "quantitative", "axis": null}, "y": {"field": "t", "type": "quantitative", "axis": null}, "y2": {"field": "b"}}},
{"data": {"name": "groups"}, "mark": {"type": "rule", "color": "#111", "strokeWidth": 1.2},
 "encoding": {"x": {"datum": 463.334, "type": "quantitative", "axis": null}, "x2": {"datum": 465.1}, "y": {"field": "t", "type": "quantitative", "axis": null}}},
{"data": {"name": "groups"}, "mark": {"type": "rule", "color": "#111", "strokeWidth": 1.2},
 "encoding": {"x": {"datum": 463.334, "type": "quantitative", "axis": null}, "x2": {"datum": 465.1}, "y": {"field": "b", "type": "quantitative", "axis": null}}},
{"data": {"name": "groups"}, "mark": {"type": "rule", "color": "#111", "strokeWidth": 1.2},
 "encoding": {"x": {"datum": 462.245, "type": "quantitative", "axis": null}, "x2": {"datum": 463.334}, "y": {"field": "m", "type": "quantitative", "axis": null}}},
{"data": {"name": "groups"}, "mark": {"type": "text", "align": "right", "baseline": "middle", "font": "Liberation Sans", "fontSize": 16, "fontStyle": "italic", "color": "#111"},
 "encoding": {"x": {"datum": 462.04, "type": "quantitative", "axis": null}, "y": {"field": "m", "type": "quantitative", "axis": null}, "text": {"field": "n"}}}
]
}
